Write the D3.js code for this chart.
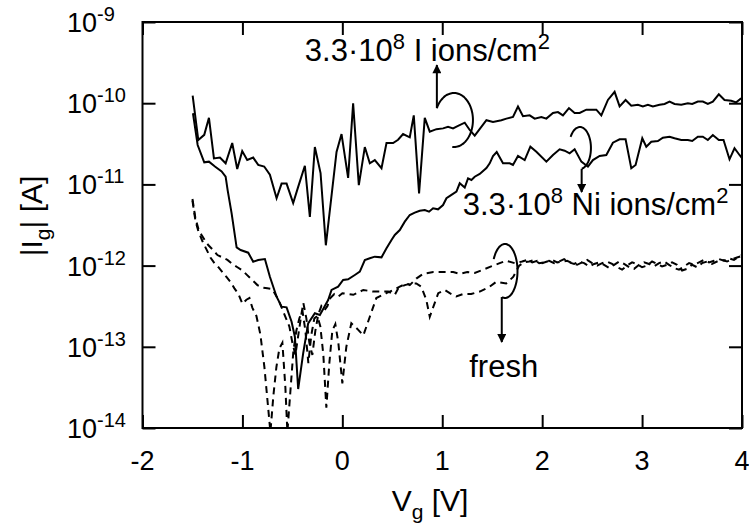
<!DOCTYPE html>
<html>
<head>
<meta charset="utf-8">
<script src="https://cdn.jsdelivr.net/npm/d3@7"></script>
<style>
  body { margin: 0; background: #fff; }
  text { font-family: "Liberation Sans", Arial, sans-serif; fill: #000; }
</style>
</head>
<body>
<div id="chart"></div>
<script>
"use strict"

// ---- data (V in volts, log10 of |Ig| in A) ----
const xTicks = [-2, -1, 0, 1, 2, 3, 4];
const xTickLabels = ["-2", "-1", "0", "1", "2", "3", "4"];
const yTickExps = [-14, -13, -12, -11, -10, -9];

// 3.3e8 I ions/cm2
const iIons = [[-1.498,-9.908],[-1.442,-10.453],[-1.382,-10.39],[-1.335,-10.18],[-1.285,-10.68],[-1.225,-10.67],
  [-1.168,-10.74],[-1.102,-10.49],[-1.052,-10.81],[-1.002,-10.59],[-0.952,-10.70],[-0.892,-10.67],[-0.842,-10.76],
  [-0.782,-10.78],[-0.725,-10.88],[-0.658,-11.17],[-0.608,-10.99],[-0.558,-10.99],[-0.492,-11.23],[-0.442,-11.03],
  [-0.375,-10.77],[-0.325,-11.40],[-0.275,-10.54],[-0.218,-10.86],[-0.165,-11.75],[-0.058,-10.60],[-0.008,-10.38],
  [0.058,-10.92],[0.108,-10.00],[0.165,-11.01],[0.225,-10.54],[0.275,-10.74],[0.325,-10.70],[0.392,-10.80],
  [0.442,-10.49],[0.508,-10.49],[0.558,-10.45],[0.608,-10.38],[0.675,-10.42],[0.715,-10.15],[0.768,-11.11],
  [0.825,-10.18],[0.875,-10.35],[0.942,-10.32],[1.008,-10.31],[1.058,-10.29],[1.108,-10.31],[1.158,-10.28],
  [1.225,-10.24],[1.275,-10.33],[1.325,-10.40],[1.442,-10.21],[1.508,-10.23],[1.592,-10.21],[1.642,-10.19],
  [1.708,-10.17],[1.758,-10.04],[1.808,-10.16],[1.875,-10.15],[1.925,-10.19],[1.992,-10.17],[2.042,-10.19],
  [2.108,-10.12],[2.158,-10.11],[2.208,-10.15],[2.268,-10.06],[2.325,-10.12],[2.375,-10.12],[2.442,-10.08],
  [2.542,-10.08],[2.592,-10.15],[2.658,-9.96],[2.725,-9.86],[2.775,-10.04],[2.835,-9.96],[2.892,-10.03],
  [2.958,-10.02],[3.008,-10.04],[3.058,-10.02],[3.108,-10.04],[3.175,-10.02],[3.225,-10.01],[3.275,-9.98],
  [3.325,-10.01],[3.392,-10.02],[3.458,-10.00],[3.502,-10.01],[3.558,-9.98],[3.608,-9.98],[3.658,-10.01],
  [3.708,-9.98],[3.768,-9.89],[3.825,-9.96],[3.892,-9.97],[3.942,-9.99],[3.992,-9.94]];

// 3.3e8 Ni ions/cm2
const niIons = [[-1.495,-10.124],[-1.448,-10.515],[-1.382,-10.728],[-1.335,-10.72],[-1.275,-10.78],[-1.208,-10.84],
  [-1.168,-10.905],[-1.148,-11.07],[-1.108,-11.356],[-1.058,-11.775],[-1.018,-11.808],[-0.942,-11.841],[-0.892,-11.952],
  [-0.842,-11.931],[-0.775,-11.919],[-0.725,-12.137],[-0.658,-12.383],[-0.608,-12.506],[-0.558,-12.514],
  [-0.508,-12.691],[-0.475,-12.876],[-0.442,-13.52],[-0.392,-13.08],[-0.342,-12.711],[-0.275,-12.587],
  [-0.225,-12.608],[-0.142,-12.424],[-0.108,-12.30],[-0.042,-12.26],[0.008,-12.177],[0.058,-12.169],
  [0.125,-12.116],[0.175,-12.075],[0.225,-11.931],[0.275,-11.91],[0.325,-11.89],[0.392,-11.898],[0.442,-11.787],
  [0.492,-11.685],[0.525,-11.623],[0.575,-11.562],[0.625,-11.459],[0.675,-11.377],[0.725,-11.348],[0.775,-11.324],
  [0.825,-11.315],[0.868,-11.336],[0.908,-11.294],[0.958,-11.307],[1.008,-11.254],[1.042,-11.171],[1.092,-11.13],
  [1.142,-11.09],[1.175,-10.986],[1.225,-11.038],[1.258,-10.925],[1.292,-10.946],[1.325,-10.905],[1.375,-10.872],
  [1.442,-10.798],[1.475,-10.74],[1.508,-10.65],[1.545,-10.601],[1.608,-10.74],[1.675,-10.74],[1.708,-10.761],
  [1.758,-10.65],[1.825,-10.70],[1.882,-10.536],[1.942,-10.597],[2.042,-10.72],[2.108,-10.638],[2.175,-10.568],
  [2.225,-10.585],[2.275,-10.617],[2.325,-10.568],[2.392,-10.72],[2.458,-10.782],[2.508,-10.70],[2.575,-10.65],
  [2.642,-10.638],[2.708,-10.486],[2.775,-10.445],[2.835,-10.445],[2.892,-10.802],[2.935,-10.761],[3.002,-10.432],
  [3.042,-10.536],[3.092,-10.474],[3.158,-10.466],[3.208,-10.425],[3.275,-10.413],[3.325,-10.432],[3.392,-10.453],
  [3.458,-10.453],[3.502,-10.466],[3.558,-10.413],[3.608,-10.413],[3.658,-10.453],[3.708,-10.392],[3.768,-10.453],
  [3.815,-10.453],[3.875,-10.691],[3.925,-10.555],[3.975,-10.638],[4.0,-10.675]];

// fresh, two sweeps
const freshA = [[-1.50,-11.20],[-1.47,-11.45],[-1.44,-11.58],[-1.40,-11.70],[-1.36,-11.80],[-1.32,-11.90],
  [-1.28,-11.97],[-1.24,-12.02],[-1.20,-12.08],[-1.16,-12.14],[-1.12,-12.20],[-1.08,-12.28],[-1.04,-12.35],
  [-1.00,-12.47],[-0.96,-12.42],[-0.93,-12.40],[-0.90,-12.52],[-0.86,-12.62],[-0.82,-12.85],[-0.78,-13.25],
  [-0.75,-13.65],[-0.72,-14.05],[-0.69,-13.60],[-0.66,-13.25],[-0.63,-13.02],[-0.60,-12.95],[-0.57,-13.50],
  [-0.55,-14.05],[-0.52,-13.55],[-0.49,-13.05],[-0.46,-12.80],[-0.43,-12.65],[-0.40,-12.55],[-0.37,-12.80],
  [-0.34,-13.20],[-0.31,-12.85],[-0.28,-12.65],[-0.25,-12.62],[-0.22,-12.75],[-0.19,-13.10],[-0.16,-13.75],
  [-0.13,-13.20],[-0.10,-12.80],[-0.07,-12.72],[-0.04,-12.95],[0.00,-13.45],[0.04,-13.00],[0.09,-12.71],
  [0.15,-12.78],[0.21,-12.86],[0.275,-12.63],[0.34,-12.40],[0.44,-12.34],[0.51,-12.30],[0.575,-12.26],
  [0.64,-12.22],[0.675,-12.24],[0.74,-12.16],[0.81,-12.10],[0.91,-12.08],[1.01,-12.08],[1.11,-12.08],
  [1.175,-12.10],[1.25,-12.08],[1.325,-12.09],[1.41,-12.05],[1.49,-12.01],[1.575,-11.97],[1.64,-11.94],
  [1.725,-11.97],[1.80,-11.95],[1.85,-11.93],[1.90,-11.96],[1.95,-11.94],[2.00,-11.97],[2.05,-11.95],
  [2.10,-11.93],[2.15,-11.96],[2.20,-11.95],[2.25,-11.94],[2.30,-11.97],[2.35,-11.99],[2.40,-11.96],
  [2.45,-11.93],[2.50,-11.97],[2.55,-12.00],[2.60,-11.97],[2.65,-11.95],[2.70,-11.98],[2.75,-12.02],
  [2.80,-12.05],[2.85,-12.00],[2.90,-11.96],[2.95,-11.98],[3.00,-12.02],[3.05,-12.00],[3.10,-11.95],
  [3.15,-11.98],[3.20,-12.01],[3.25,-11.99],[3.30,-11.96],[3.35,-11.99],[3.40,-12.06],[3.45,-12.04],
  [3.50,-11.99],[3.55,-12.02],[3.60,-11.97],[3.65,-11.95],[3.70,-11.98],[3.75,-11.95],[3.80,-11.93],
  [3.85,-11.95],[3.90,-11.92],[3.95,-11.90],[4.00,-11.88]];

const freshB = [[-1.50,-11.18],[-1.47,-11.42],[-1.44,-11.55],[-1.41,-11.62],[-1.37,-11.70],[-1.34,-11.75],
  [-1.30,-11.80],[-1.25,-11.87],[-1.20,-11.90],[-1.15,-11.93],[-1.10,-11.98],[-1.05,-12.02],[-1.00,-12.06],
  [-0.95,-12.12],[-0.90,-12.18],[-0.85,-12.24],[-0.80,-12.27],[-0.75,-12.28],[-0.70,-12.29],[-0.64,-12.42],
  [-0.58,-12.60],[-0.53,-12.75],[-0.50,-12.95],[-0.47,-13.10],[-0.44,-12.85],[-0.41,-12.60],[-0.39,-12.46],
  [-0.36,-12.65],[-0.33,-12.95],[-0.30,-13.10],[-0.27,-12.80],[-0.24,-12.60],[-0.21,-12.50],[-0.18,-12.55],
  [-0.15,-12.50],[-0.12,-12.40],[-0.08,-12.35],[-0.04,-12.38],[0.00,-12.34],[0.11,-12.36],[0.21,-12.30],
  [0.31,-12.32],[0.46,-12.32],[0.525,-12.36],[0.56,-12.28],[0.625,-12.24],[0.69,-12.22],[0.74,-12.22],
  [0.79,-12.26],[0.84,-12.42],[0.875,-12.63],[0.96,-12.34],[1.025,-12.30],[1.075,-12.34],[1.14,-12.38],
  [1.21,-12.35],[1.29,-12.35],[1.375,-12.32],[1.475,-12.26],[1.54,-12.20],[1.64,-12.22],[1.71,-12.14],
  [1.77,-12.00],[1.82,-11.96],[1.87,-11.95],[1.92,-11.93],[1.97,-11.97],[2.02,-11.96],[2.07,-11.94],
  [2.12,-11.97],[2.17,-11.95],[2.22,-11.92],[2.27,-11.96],[2.32,-11.98],[2.37,-11.95],[2.42,-11.97],
  [2.47,-12.01],[2.52,-11.98],[2.57,-11.96],[2.62,-11.99],[2.67,-12.03],[2.72,-11.99],[2.77,-11.95],
  [2.82,-11.98],[2.87,-12.02],[2.92,-12.04],[2.97,-11.99],[3.02,-11.96],[3.07,-11.98],[3.12,-12.01],
  [3.17,-11.97],[3.22,-11.95],[3.27,-11.99],[3.32,-12.03],[3.37,-12.05],[3.42,-12.01],[3.47,-11.97],
  [3.52,-11.99],[3.57,-11.96],[3.62,-11.93],[3.67,-11.96],[3.72,-11.94],[3.77,-11.92],[3.82,-11.94],
  [3.87,-11.91],[3.92,-11.93],[3.97,-11.89],[4.00,-11.87]];

// loops + arrows + labels (positions in data units)
const annotations = [
  { text: ["3.3·10", "8", " I ions/cm", "2"], textV: -0.375, textLog: -9.486, anchor: "start",
    loopV: 1.117, loopLog: -10.207, rx: 19, ry: 27, a0: -154, a1: 95, arrowFrom: "start", arrowTo: -9.53 },
  { text: ["3.3·10", "8", " Ni ions/cm", "2"], textV: 1.205, textLog: -11.377, anchor: "start",
    loopV: 2.378, loopLog: -10.552, rx: 11, ry: 21, a0: -148, a1: 81, arrowFrom: "end", arrowTo: -11.094 },
  { text: ["fresh"], textV: 1.615, textLog: -13.372, anchor: "middle",
    loopV: 1.628, loopLog: -12.066, rx: 12.5, ry: 27, a0: -154, a1: 105, arrowFrom: "end", arrowTo: -12.941 }
];

// ---- layout ----
const width = 749, height = 525;
const margin = { top: 22, right: 7, bottom: 97, left: 142.5 };
const tickLen = 13;

const svg = d3.select("#chart").append("svg")
    .attr("width", width)
    .attr("height", height);

const x = d3.scaleLinear().domain([-2, 4]).range([margin.left, width - margin.right]);
const y = d3.scaleLog().domain([1e-14, 1e-9]).range([height - margin.bottom, margin.top]);
const yl = v => y(Math.pow(10, v));

svg.append("defs").append("clipPath").attr("id", "plotClip")
  .append("rect")
    .attr("x", x(-2)).attr("y", y(1e-9))
    .attr("width", x(4) - x(-2)).attr("height", y(1e-14) - y(1e-9));

svg.select("defs").append("marker")
    .attr("id", "arrowHead")
    .attr("viewBox", "0 0 10 10")
    .attr("refX", 9).attr("refY", 5)
    .attr("markerUnits", "userSpaceOnUse")
    .attr("markerWidth", 10).attr("markerHeight", 9)
    .attr("orient", "auto")
  .append("path")
    .attr("d", "M0,0 L10,5 L0,10 Z")
    .style("fill", "#000");

// ---- curves ----
const line = d3.line().x(d => x(d[0])).y(d => yl(d[1]));
const curves = svg.append("g").attr("clip-path", "url(#plotClip)");

function drawCurve(data, dashed) {
  curves.append("path")
      .datum(data)
      .attr("d", line)
      .style("fill", "none")
      .style("stroke", "#000")
      .style("stroke-width", "2px")
      .style("stroke-dasharray", dashed ? "7,5" : null);
}
drawCurve(freshA, true);
drawCurve(freshB, true);
drawCurve(niIons, false);
drawCurve(iIons, false);

// ---- axes (inward ticks on all four sides) ----
function styleAxis(g) {
  g.select(".domain").remove();
  g.selectAll(".tick line").style("stroke", "#000").style("stroke-width", "2px");
}

svg.append("g")
    .attr("transform", `translate(0,${y(1e-14)})`)
    .call(d3.axisBottom(x).tickValues(xTicks).tickSize(-tickLen).tickFormat(""))
    .call(styleAxis);

svg.append("g")
    .attr("transform", `translate(0,${y(1e-9)})`)
    .call(d3.axisTop(x).tickValues(xTicks).tickSize(-tickLen).tickFormat(""))
    .call(styleAxis);

const yTickVals = yTickExps.map(e => Math.pow(10, e));
svg.append("g")
    .attr("transform", `translate(${x(-2)},0)`)
    .call(d3.axisLeft(y).tickValues(yTickVals).tickSize(-tickLen).tickFormat(""))
    .call(styleAxis);

svg.append("g")
    .attr("transform", `translate(${x(4)},0)`)
    .call(d3.axisRight(y).tickValues(yTickVals).tickSize(-tickLen).tickFormat(""))
    .call(styleAxis);

// frame
svg.append("rect")
    .attr("x", x(-2)).attr("y", y(1e-9))
    .attr("width", x(4) - x(-2)).attr("height", y(1e-14) - y(1e-9))
    .style("fill", "none").style("stroke", "#000").style("stroke-width", "2px");

// x tick labels
xTicks.forEach((v, i) => {
  svg.append("text")
      .attr("x", x(v))
      .attr("y", y(1e-14) + 42)
      .attr("text-anchor", "middle")
      .style("font-size", "27px")
      .text(xTickLabels[i]);
});

// y tick labels 10^n
yTickExps.forEach(e => {
  const t = svg.append("text")
      .attr("x", 67)
      .attr("y", yl(e) + 10)
      .style("font-size", "27px");
  t.append("tspan").text("10");
  t.append("tspan").attr("dy", -11).style("font-size", "20px").text(e);
});

// axis titles
const xTitle = svg.append("text")
    .attr("x", 430).attr("y", 511)
    .attr("text-anchor", "middle")
    .style("font-size", "30px");
xTitle.append("tspan").text("V");
xTitle.append("tspan").attr("dy", 8).style("font-size", "21px").text("g");
xTitle.append("tspan").attr("dy", -8).text(" [V]");

const yTitle = svg.append("text")
    .attr("transform", "translate(42,216) rotate(-90)")
    .attr("text-anchor", "middle")
    .style("font-size", "30px");
yTitle.append("tspan").text("|I");
yTitle.append("tspan").attr("dy", 8).style("font-size", "21px").text("g");
yTitle.append("tspan").attr("dy", -8).text("| [A]");

// ---- annotations ----
annotations.forEach(a => {
  const cx = x(a.loopV), cy = yl(a.loopLog);
  const pt = deg => [cx + a.rx * Math.cos(deg * Math.PI / 180), cy + a.ry * Math.sin(deg * Math.PI / 180)];
  svg.append("path")
      .datum(d3.range(a.a0, a.a1 + 1, 3).map(pt))
      .attr("d", d3.line().curve(d3.curveCatmullRom))
      .style("fill", "none").style("stroke", "#000").style("stroke-width", "2px");

  const base = pt(a.arrowFrom === "start" ? a.a0 : a.a1);
  svg.append("line")
      .attr("x1", base[0]).attr("y1", base[1])
      .attr("x2", base[0]).attr("y2", yl(a.arrowTo))
      .attr("marker-end", "url(#arrowHead)")
      .style("stroke", "#000").style("stroke-width", "2px");

  const t = svg.append("text")
      .attr("x", x(a.textV)).attr("y", yl(a.textLog))
      .attr("text-anchor", a.anchor)
      .style("font-size", "31px");
  a.text.forEach((s, i) => {
    const sup = i % 2 === 1;
    const ts = t.append("tspan").text(s);
    if (sup) ts.attr("dy", -12).style("font-size", "22px");
    else if (i > 0) ts.attr("dy", 12);
  });
});
</script>
</body>
</html>
